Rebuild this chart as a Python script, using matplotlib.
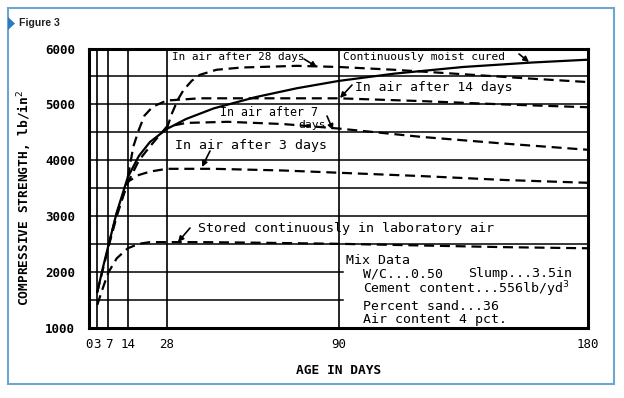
import matplotlib
matplotlib.use('Agg')
import matplotlib.pyplot as plt
from matplotlib.patches import Rectangle, Polygon

W, H = 624, 398

# ---------------- data ----------------
moist_days = [3, 5, 7, 10, 14, 18, 22, 28, 35, 45, 60, 75, 90, 110, 135, 160, 180]
moist_psi = [1650, 2080, 2480, 3070, 3700, 4080, 4330, 4560, 4740, 4930, 5130, 5290, 5420, 5550, 5670, 5750, 5800]

air28_days = [28, 30, 32, 34, 37, 40, 46, 55, 75, 90, 110, 135, 160, 180]
air28_psi = [4560, 4850, 5080, 5250, 5420, 5530, 5620, 5660, 5690, 5670, 5620, 5540, 5460, 5400]

air14_days = [14, 16, 18, 20, 23, 28, 40, 60, 90, 120, 150, 180]
air14_psi = [3700, 4250, 4550, 4800, 4960, 5070, 5110, 5110, 5110, 5060, 5000, 4950]

air7_days = [7, 10, 14, 18, 22, 28, 35, 50, 70, 90, 120, 150, 180]
air7_psi = [2480, 3050, 3600, 4000, 4250, 4600, 4670, 4690, 4650, 4570, 4420, 4300, 4190]

air3_days = [3, 5, 7, 10, 14, 18, 22, 28, 45, 70, 90, 120, 150, 180]
air3_psi = [1650, 2050, 2450, 3000, 3620, 3740, 3800, 3850, 3850, 3820, 3780, 3720, 3650, 3600]

lab_days = [3, 5, 7, 10, 14, 18, 22, 28, 40, 60, 90, 120, 150, 180]
lab_psi = [1420, 1720, 2000, 2250, 2430, 2510, 2540, 2540, 2540, 2530, 2510, 2480, 2450, 2430]

x_ticks = [0, 3, 7, 14, 28, 90, 180]
y_ticks = [1000, 2000, 3000, 4000, 5000, 6000]
h_grid = [2500, 3000, 3500, 4000, 4500, 5000, 5500]
h_grid_short = [1500, 2000]

MONO = 'DejaVu Sans Mono'

fig = plt.figure(figsize=(W / 100, H / 100), dpi=100)
fig.patch.set_facecolor('white')

L, R, T, B = 89, 588, 48.5, 328.3
ax = fig.add_axes([L / W, (H - B) / H, (R - L) / W, (B - T) / H])
ax.set_xlim(0, 180)
ax.set_ylim(1000, 6000)

# grid
for d in x_ticks[1:-1]:
    ax.axvline(d, color='black', lw=1.2, zorder=1)
for v in h_grid:
    ax.axhline(v, color='black', lw=1.1, zorder=1)
for v in h_grid_short:
    ax.plot([0, 91.5], [v, v], color='black', lw=1.1, zorder=1)

for s in ax.spines.values():
    s.set_linewidth(2.2)
    s.set_color('black')

ax.set_xticks(x_ticks)
ax.set_xticklabels([str(t) for t in x_ticks], fontfamily=MONO, fontsize=9)
ax.set_yticks(y_ticks)
ax.set_yticklabels([str(t) for t in y_ticks], fontfamily=MONO, fontsize=9, fontweight='bold')
ax.tick_params(axis='both', length=0)
ax.tick_params(axis='y', pad=10)
ax.tick_params(axis='x', pad=7)

dash = (4.5, 2.6)
ax.plot(moist_days, moist_psi, color='black', lw=1.6, zorder=3)
for dd, vv in [(air28_days, air28_psi), (air14_days, air14_psi), (air7_days, air7_psi),
               (air3_days, air3_psi), (lab_days, lab_psi)]:
    ax.plot(dd, vv, color='black', lw=1.6, dashes=dash, zorder=3)


def F(x, y):
    return (x / W, 1 - y / H)


def label(txt, x, y, fs, **kw):
    fig.text(x / W, 1 - y / H, txt, fontfamily=MONO, fontsize=fs, ha='left', va='center',
             color='black', **kw)


def arrow(x0, y0, x1, y1):
    ax.annotate('', xy=F(x1, y1), xycoords='figure fraction', xytext=F(x0, y0),
                textcoords='figure fraction',
                arrowprops=dict(arrowstyle='-|>', color='black', lw=1.2, mutation_scale=8,
                                shrinkA=0, shrinkB=0))


label('In air after 28 days', 172, 57, 7.95)
arrow(304, 59, 317, 67)
label('Continuously moist cured', 343, 57, 8.1)
arrow(519, 54, 529, 62)
label('In air after 14 days', 355, 88, 9.4)
arrow(352, 85, 340, 98)
label('In air after 7', 220, 112, 8.4)
label('days', 298, 124.5, 8.2)
arrow(327, 116, 333, 130)
label('In air after 3 days', 175, 146, 9.5)
arrow(210, 151, 202, 167)
label('Stored continuously in laboratory air', 198, 228, 9.6)
arrow(190, 228, 178, 242)

label('Mix Data', 346, 260, 9.5)
label('W/C...0.50', 363, 274, 9.5)
label('Slump...3.5in', 468, 274, 9.6)
label('Cement content...556lb/yd$^{3}$', 363, 289, 9.5)
label('Percent sand...36', 363, 307, 9.5)
label('Air content 4 pct.', 363, 320, 9.5)

fig.text(339 / W, 1 - 370 / H, 'AGE IN DAYS', fontfamily=MONO, fontsize=9.3,
         fontweight='bold', ha='center', va='center')
fig.text(25 / W, 1 - 198 / H, 'COMPRESSIVE STRENGTH, lb/in$^{2}$', fontfamily=MONO,
         fontsize=9.3, fontweight='bold', ha='center', va='center', rotation=90)

# outer frame and header
fig.add_artist(Rectangle(F(8, 384), (614 - 8) / W, (384 - 7.5) / H, transform=fig.transFigure,
                         fill=False, ec='#6fa6cf', lw=1.5))
fig.add_artist(Polygon([F(8, 17), F(15, 23.5), F(8, 30)], closed=True, transform=fig.transFigure,
                       fc='#2c7bbf', ec='none'))
fig.text(19 / W, 1 - 23.5 / H, 'Figure 3', fontfamily='Liberation Sans', fontsize=7.6,
         fontweight='bold', ha='left', va='center', color='#222222')

fig.savefig('out.png', dpi=100)
